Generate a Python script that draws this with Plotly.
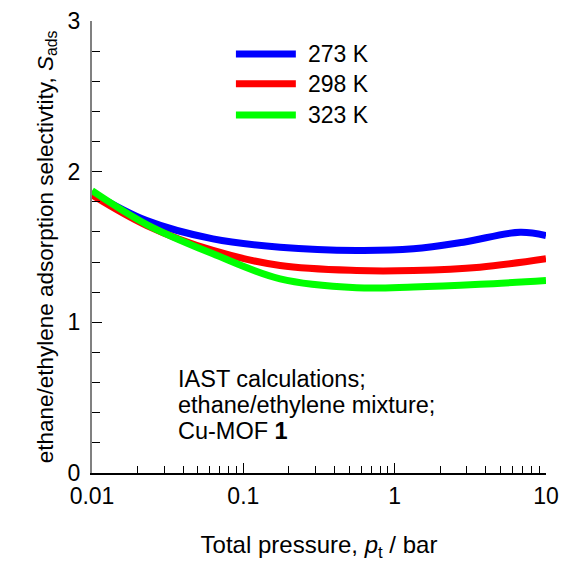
import plotly.graph_objects as go

# Data
temps = ["273 K", "298 K", "323 K"]
colors = ["#0000ff", "#ff0000", "#00ff00"]

p_273 = [0.01, 0.023, 0.063, 0.175, 0.56, 1.33, 2.85, 6.74, 10]
s_273 = [1.86, 1.675, 1.554, 1.499, 1.477, 1.488, 1.532, 1.598, 1.576]

p_298 = [0.01, 0.023, 0.063, 0.175, 0.56, 1.33, 3.66, 10]
s_298 = [1.845, 1.642, 1.477, 1.377, 1.344, 1.344, 1.366, 1.422]

p_323 = [0.01, 0.023, 0.063, 0.175, 0.56, 1.33, 3.66, 10]
s_323 = [1.874, 1.649, 1.455, 1.289, 1.230, 1.234, 1.252, 1.278]

x_tickvals = [0.01, 0.1, 1, 10]
x_ticktext = ["0.01", "0.1", "1", "10"]
y_tickvals = [0, 1, 2, 3]

series = [(p_273, s_273), (p_298, s_298), (p_323, s_323)]

FONT = "Arial, Liberation Sans, sans-serif"

fig = go.Figure()
for (px, sy), name, c in zip(series, temps, colors):
    fig.add_trace(go.Scatter(x=px, y=sy, mode="lines", name=name,
                             line=dict(color=c, width=7, shape="spline", smoothing=1.0),
                             showlegend=False))

# custom legend (line samples + labels)
leg_y = [0.927, 0.861, 0.792]
for name, c, yy in zip(temps, colors, leg_y):
    fig.add_shape(type="line", xref="paper", yref="paper",
                  x0=0.317, x1=0.449, y0=yy, y1=yy,
                  line=dict(color=c, width=7))
    fig.add_annotation(xref="paper", yref="paper", x=0.472, y=yy,
                       text=name, showarrow=False, xanchor="left", yanchor="middle",
                       font=dict(size=23, color="black", family=FONT))

note_lines = ["IAST calculations;", "ethane/ethylene mixture;", "Cu-MOF <b>1</b>"]
note_y = [0.208, 0.150, 0.093]
for t, yy in zip(note_lines, note_y):
    fig.add_annotation(xref="paper", yref="paper", x=0.185, y=yy,
                       text=t, showarrow=False, xanchor="left", yanchor="middle",
                       font=dict(size=23.5, color="black", family=FONT))

minor_x = [m * 10 ** e for e in (-2, -1, 0) for m in range(2, 10)]

fig.update_layout(
    width=561, height=563,
    margin=dict(l=92, r=15, t=21, b=90),
    paper_bgcolor="white", plot_bgcolor="white",
    font=dict(family=FONT, size=23, color="black"),
    xaxis=dict(type="log", range=[-2, 1], tickvals=x_tickvals, ticktext=x_ticktext,
               automargin=False,
               ticks="inside", ticklen=10, tickwidth=1, tickcolor="black",
               showline=True, linecolor="black", linewidth=1.5, showgrid=False, zeroline=False,
               minor=dict(tickvals=minor_x, ticks="inside", ticklen=7, tickcolor="black", showgrid=False),
               tickfont=dict(size=23, family=FONT), ticklabelstandoff=2,
               title=dict(text="Total pressure, <i>p</i><sub>t</sub> / bar", standoff=28,
                          font=dict(size=24, family=FONT))),
    yaxis=dict(range=[0, 3], tickvals=y_tickvals, ticks="inside", ticklen=10, tickwidth=1,
               automargin=False,
               tickcolor="black", showline=True, linecolor="#808080", linewidth=2,
               showgrid=False, zeroline=False, ticklabelstandoff=5,
               minor=dict(dtick=0.2, ticks="inside", ticklen=8, tickcolor="black", showgrid=False),
               tickfont=dict(size=23, family=FONT),
               title=dict(text="ethane/ethylene adsorption selectivtity, <i>S</i><sub>ads</sub>",
                          standoff=8, font=dict(size=22.5, family=FONT))),
)

fig.write_html("out.html")
